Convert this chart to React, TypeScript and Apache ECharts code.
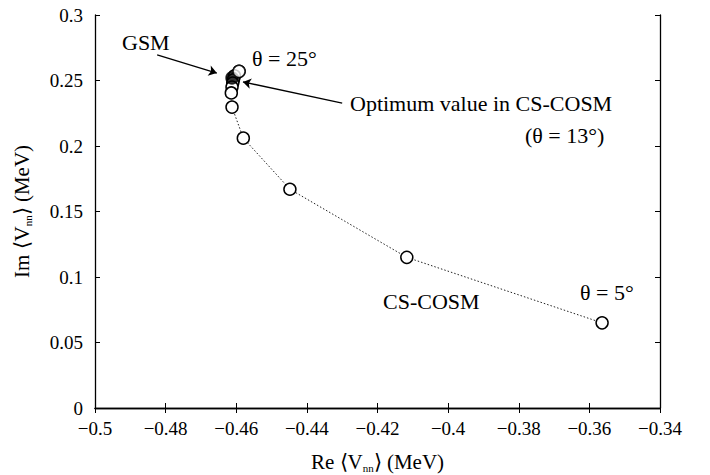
import React, { useEffect, useRef } from "react";
import * as echarts from "echarts";

// CS-COSM points, from theta = 25° down to theta = 5°: [Re, Im] (MeV)
const cosmRe = [-0.4592, -0.4605, -0.4608, -0.461, -0.4612, -0.4614, -0.4612, -0.458, -0.4448, -0.4117, -0.3564];
const cosmIm = [0.257, 0.2535, 0.2505, 0.248, 0.245, 0.2405, 0.2297, 0.206, 0.167, 0.115, 0.065];
// GSM value
const gsmRe = [-0.4612];
const gsmIm = [0.252];
// arrows [fromRe, fromIm, toRe, toIm]
const gsmArrow = [-0.4824, 0.2695, -0.4655, 0.2557];
const optArrow = [-0.43, 0.2328, -0.4581, 0.2489];

const xTicks = { min: -0.5, max: -0.34, interval: 0.02 };
const yTicks = { min: 0, max: 0.3, interval: 0.05 };

const FONT = "Liberation Serif";

const fmt = (v: number) => String(+v.toFixed(4)).replace("-", "\u2212");

export default function App() {
  const ref = useRef<HTMLDivElement>(null);
  useEffect(() => {
    const chart = echarts.init(ref.current!, null, { renderer: "svg" });
    const cosm = cosmRe.map((x, i) => [x, cosmIm[i]]);
    const gsm = gsmRe.map((x, i) => [x, gsmIm[i]]);
    const axisLine = { show: true, lineStyle: { color: "#000", width: 1.3 } };
    const tick = { show: true, inside: true, length: 5, lineStyle: { color: "#000", width: 1 } };
    const rich = {
      a: { fontFamily: FONT, fontSize: 21, color: "#000" },
      s: { fontFamily: FONT, fontSize: 11, color: "#000", padding: [11, 0, 0, 0] },
    };
    const text = (x: number, y: number, t: string) => ({
      type: "text",
      x,
      y,
      style: { text: t, fontFamily: FONT, fontSize: 22, fill: "#000", align: "left", verticalAlign: "middle" },
    });
    chart.setOption({
      animation: false,
      backgroundColor: "#fff",
      textStyle: { fontFamily: FONT },
      grid: { left: 95, right: 50, top: 15, bottom: 67, containLabel: false, outerBoundsMode: "none" },
      xAxis: [
        {
          type: "value",
          ...xTicks,
          axisLine,
          axisTick: tick,
          splitLine: { show: false },
          axisLabel: { formatter: fmt, fontFamily: FONT, fontSize: 19, color: "#000", margin: 11 },
          name: "{a|Re \u27E8V}{s|nn}{a|\u27E9 (MeV)}",
          nameLocation: "middle",
          nameGap: 43,
          nameTextStyle: { rich },
        },
        {
          type: "value",
          position: "top",
          ...xTicks,
          axisLine,
          axisTick: tick,
          splitLine: { show: false },
          axisLabel: { show: false },
        },
      ],
      yAxis: [
        {
          type: "value",
          ...yTicks,
          axisLine,
          axisTick: tick,
          splitLine: { show: false },
          axisLabel: { formatter: fmt, fontFamily: FONT, fontSize: 19, color: "#000", margin: 12 },
          name: "{a|Im \u27E8V}{s|nn}{a|\u27E9 (MeV)}",
          nameLocation: "middle",
          nameGap: 62,
          nameRotate: 90,
          nameTextStyle: { rich },
        },
        {
          type: "value",
          position: "right",
          ...yTicks,
          axisLine,
          axisTick: tick,
          splitLine: { show: false },
          axisLabel: { show: false },
        },
      ],
      series: [
        {
          type: "line",
          data: cosm,
          symbol: "circle",
          symbolSize: 12,
          showSymbol: true,
          lineStyle: { type: [1.5, 2], width: 1, color: "#222" },
          itemStyle: { color: "#fff", borderColor: "#000", borderWidth: 1.5 },
          z: 2,
          markLine: {
            silent: true,
            symbol: ["none", "arrow"],
            symbolSize: 8,
            lineStyle: { color: "#000", width: 1.3, type: "solid" },
            itemStyle: { color: "#000" },
            label: { show: false },
            data: [
              [{ coord: [gsmArrow[0], gsmArrow[1]] }, { coord: [gsmArrow[2], gsmArrow[3]] }],
              [{ coord: [optArrow[0], optArrow[1]] }, { coord: [optArrow[2], optArrow[3]] }],
            ],
          },
        },
        {
          type: "scatter",
          data: gsm,
          symbol: "circle",
          symbolSize: 12,
          itemStyle: { color: "#000", borderColor: "#000", borderWidth: 1.5 },
          z: 3,
        },
        {
          type: "scatter",
          data: cosm.slice(0, 1),
          symbol: "circle",
          symbolSize: 12,
          itemStyle: { color: "#fff", borderColor: "#000", borderWidth: 1.5 },
          z: 4,
        },
      ],
      graphic: [
        text(122, 42, "GSM"),
        text(252, 58, "\u03B8 = 25\u00B0"),
        text(350, 103, "Optimum value in CS-COSM"),
        text(525, 135, "(\u03B8 = 13\u00B0)"),
        text(383, 301, "CS-COSM"),
        text(580, 292, "\u03B8 = 5\u00B0"),
      ],
    });
    return () => chart.dispose();
  }, []);
  return (
    <div
      ref={ref}
      style={{ position: "fixed", left: 0, top: 0, width: 710, height: 475, background: "#fff" }}
    />
  );
}
